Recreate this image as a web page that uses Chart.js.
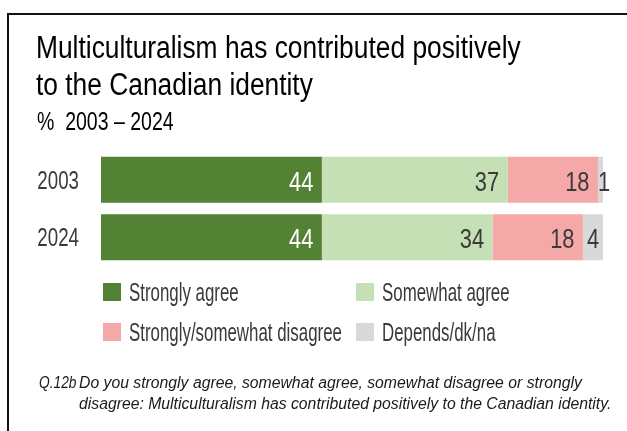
<!DOCTYPE html>
<html>
<head>
<meta charset="utf-8">
<script src="https://cdn.jsdelivr.net/npm/chart.js@4.4.1/dist/chart.umd.min.js"></script>
<style>
  html, body { margin: 0; padding: 0; background: #fff; }
  #wrap { position: relative; width: 627px; height: 431px; overflow: hidden; }
  #frame { position: absolute; left: 7px; top: 13px; right: -4px; bottom: -4px;
           border-top: 2px solid #111; border-left: 2px solid #111; pointer-events: none; }
</style>
</head>
<body>
<div id="wrap">
  <canvas id="chart" width="627" height="431"></canvas>
  <div id="frame"></div>
</div>
<script>
// data
const years = ['2003', '2024'];
const seriesNames = ['Strongly agree', 'Somewhat agree', 'Strongly/somewhat disagree', 'Depends/dk/na'];
const stronglyAgree = [44, 44];
const somewhatAgree = [37, 34];
const disagree = [18, 18];
const depends = [1, 4];
const colors = ['#548235', '#c5e0b4', '#f5a8a8', '#d9d9d9'];

const titleLines = ['Multiculturalism has contributed positively', 'to the Canadian identity'];
const subtitleText = '%  2003 \u2013 2024';
const noteLabel = 'Q.12b';
const noteLines = [
    'Do you strongly agree, somewhat agree, somewhat disagree or strongly',
    'disagree: Multiculturalism has contributed positively to the Canadian identity.'
];

const SANS = "'Liberation Sans', Arial, sans-serif";

// no narrow face is installed, so squeeze the text horizontally
function squeezed(ctx, text, x, y, size, sx, color, align, style) {
    ctx.save();
    ctx.translate(x, y);
    ctx.scale(sx, 1);
    ctx.font = (style ? style + ' ' : '') + size + 'px ' + SANS;
    ctx.fillStyle = color;
    ctx.textAlign = align || 'left';
    ctx.textBaseline = 'alphabetic';
    ctx.fillText(text, 0, 0);
    ctx.restore();
}

// value labels at the right end of each segment
const valueLabels = {
    id: 'valueLabels',
    afterDatasetsDraw(chart) {
        const ctx = chart.ctx;
        chart.data.datasets.forEach((ds, i) => {
            chart.getDatasetMeta(i).data.forEach((bar, j) => {
                const txt = String(ds.data[j]);
                const w = bar.x - bar.base;
                const col = i === 0 ? '#ffffff' : '#3a3a3a';
                const y = bar.y + 11;
                if (w < 10) {
                    squeezed(ctx, txt, bar.base, y, 28, 0.78, col, 'left');
                } else if (w < 25) {
                    squeezed(ctx, txt, bar.base + w / 2, y, 28, 0.78, col, 'center');
                } else {
                    squeezed(ctx, txt, bar.x - 8.5, y, 28, 0.78, col, 'right');
                }
            });
        });
    }
};

// title, category labels, two-column legend and the question note
const textLayer = {
    id: 'textLayer',
    afterDraw(chart) {
        const ctx = chart.ctx;
        const area = chart.chartArea;

        squeezed(ctx, titleLines[0], 36, 58, 31, 0.85, '#000');
        squeezed(ctx, titleLines[1], 36, 95, 31, 0.85, '#000');
        squeezed(ctx, subtitleText, 37, 130, 25, 0.78, '#000');

        const yScale = chart.scales.y;
        yScale.ticks.forEach((t, i) => {
            const y = yScale.getPixelForTick(i);
            squeezed(ctx, chart.data.labels[i], area.left - 22, y + 9, 26, 0.72, '#3a3a3a', 'right');
        });

        const colX = [area.left + 2, area.left + 255];
        const rowY = [283, 323];
        chart.data.datasets.forEach((ds, i) => {
            const x = colX[i % 2];
            const y = rowY[Math.floor(i / 2)];
            ctx.fillStyle = ds.backgroundColor;
            ctx.fillRect(x, y, 18, 18);
            squeezed(ctx, ds.label, x + 26, y + 17.5, 25, 0.675, '#3a3a3a');
        });

        squeezed(ctx, noteLabel, 39, 388, 16, 0.86, '#1a1a1a', 'left', 'italic');
        noteLines.forEach((line, k) => {
            squeezed(ctx, line, 79, 388 + k * 21, 16, 0.985, '#1a1a1a', 'left', 'italic');
        });
    }
};

const data = {
    labels: years,
    datasets: [stronglyAgree, somewhatAgree, disagree, depends].map((vals, i) => ({
        label: seriesNames[i],
        data: vals,
        backgroundColor: colors[i],
        borderWidth: 0,
        barPercentage: 0.8,
        categoryPercentage: 1
    }))
};

new Chart(document.getElementById('chart'), {
    type: 'bar',
    data: data,
    options: {
        indexAxis: 'y',
        responsive: false,
        animation: false,
        layout: { padding: { left: 36, right: 24, top: 151, bottom: 165 } },
        scales: {
            x: { stacked: true, min: 0, max: 100, display: false },
            y: {
                stacked: true,
                grid: { display: false, drawTicks: false },
                border: { display: false },
                ticks: { display: false },
                afterFit(scale) { scale.width = 65; }
            }
        },
        plugins: {
            legend: { display: false },
            tooltip: { enabled: false }
        }
    },
    plugins: [valueLabels, textLayer]
});
</script>
</body>
</html>
